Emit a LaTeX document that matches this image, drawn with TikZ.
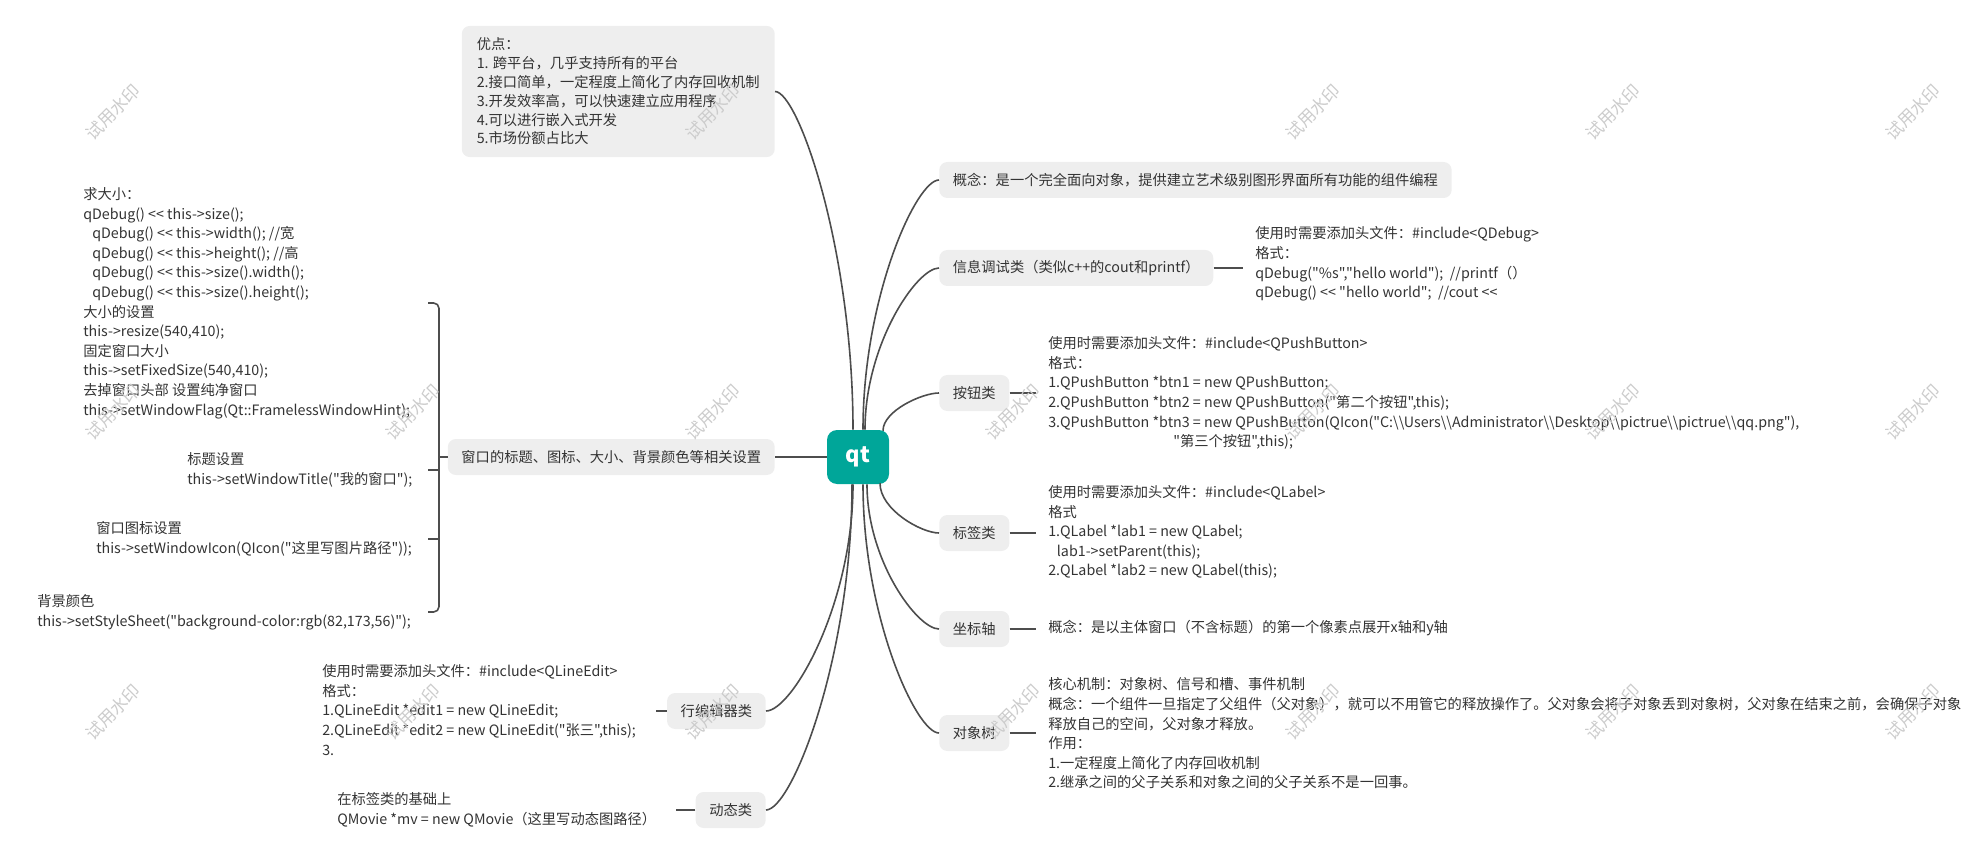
\documentclass[tikz,border=0pt]{standalone}
\usepackage{fontspec}
\setmainfont{Noto Sans CJK SC}[Ligatures=TeXOff]
\usetikzlibrary{calc, positioning}

\definecolor{qtgreen}{RGB}{0,166,153}
\definecolor{topicgray}{RGB}{238,238,238}
\definecolor{textgray}{RGB}{51,51,51}
\definecolor{linkgray}{RGB}{77,77,77}
\newcommand{\dbs}{\textbackslash\textbackslash}

\begin{document}
\begin{tikzpicture}[
    x=0.75pt, y=-0.75pt,
    root/.style={rectangle, fill=qtgreen, rounded corners=7.5pt, minimum width=46.5pt, minimum height=40.5pt, text=white, font=\fontsize{16.5}{18}\selectfont\bfseries},
    topic/.style={rectangle, fill=topicgray, rounded corners=6pt, inner xsep=10.25pt, minimum height=27pt, text=textgray, align=left, font=\fontsize{10.7}{14.1}\selectfont},
    leaf/.style={inner sep=0pt, align=left, text=textgray, font=\fontsize{10.7}{14.7}\selectfont},
    link/.style={draw=linkgray, line width=1.2pt},
    watermark/.style={text=black!20, rotate=45, font=\fontsize{13}{13}\selectfont},
  ]
  \useasboundingbox (0,0) rectangle (1982,859);

  % centre
  \node[root] (qt) at (858,457) {qt};

  % left topics
  \node[topic, anchor=east, inner xsep=11.25pt, inner ysep=9pt] (youdian) at (775,91.5) {优点：\\1. 跨平台，几乎支持所有的平台\\2.接口简单，一定程度上简化了内存回收机制\\3.开发效率高，可以快速建立应用程序\\4.可以进行嵌入式开发\\5.市场份额占比大};
  \node[topic, anchor=east] (chuangkou) at (775,457) {窗口的标题、图标、大小、背景颜色等相关设置};
  \node[topic, anchor=east] (hangbianji) at (766,711) {行编辑器类};
  \node[topic, anchor=east] (dongtai) at (766,810) {动态类};

  % right topics
  \node[topic, anchor=west] (gainian) at (939,180) {概念：是一个完全面向对象，提供建立艺术级别图形界面所有功能的组件编程};
  \node[topic, anchor=west] (tiaoshi) at (939,268) {信息调试类（类似c++的cout和printf）};
  \node[topic, anchor=west] (anniu) at (939,393) {按钮类};
  \node[topic, anchor=west] (biaoqian) at (939,533) {标签类};
  \node[topic, anchor=west] (zuobiao) at (939,629) {坐标轴};
  \node[topic, anchor=west] (duixiang) at (939,733) {对象树};

  % right details
  \node[leaf, anchor=west] (tiaoshiTxt) at (1255,264) {使用时需要添加头文件：\#include<QDebug>\\格式：\\qDebug("\%s","hello world");\ \ //printf（）\\qDebug() << "hello world";\ \ //cout <<};
  \node[leaf, anchor=west] (anniuTxt) at (1048,393) {使用时需要添加头文件：\#include<QPushButton>\\格式：\\1.QPushButton *btn1 = new QPushButton;\\2.QPushButton *btn2 = new QPushButton("第二个按钮",this);\\3.QPushButton *btn3 = new QPushButton(QIcon("C:\dbs Users\dbs Administrator\dbs Desktop\dbs pictrue\dbs pictrue\dbs qq.png"),\\\hspace*{93.75pt}"第三个按钮",this);};
  \node[leaf, anchor=west] (biaoqianTxt) at (1048,532) {使用时需要添加头文件：\#include<QLabel>\\格式\\1.QLabel *lab1 = new QLabel;\\\hspace*{6.5pt}lab1->setParent(this);\\2.QLabel *lab2 = new QLabel(this);};
  \node[leaf, anchor=west] (zuobiaoTxt) at (1048,628) {概念：是以主体窗口（不含标题）的第一个像素点展开x轴和y轴};
  \node[leaf, anchor=west] (duixiangTxt) at (1048,733.5) {核心机制：对象树、信号和槽、事件机制\\概念：一个组件一旦指定了父组件（父对象），就可以不用管它的释放操作了。父对象会将子对象丢到对象树，父对象在结束之前，会确保子对象\\释放自己的空间，父对象才释放。\\作用：\\1.一定程度上简化了内存回收机制\\2.继承之间的父子关系和对象之间的父子关系不是一回事。};

  % left details
  \node[leaf, anchor=west] (hangbianjiTxt) at (322,710) {使用时需要添加头文件：\#include<QLineEdit>\\格式：\\1.QLineEdit *edit1 = new QLineEdit;\\2.QLineEdit *edit2 = new QLineEdit("张三",this);\\3.};
  \node[leaf, anchor=west] (dongtaiTxt) at (337,810) {在标签类的基础上\\QMovie *mv = new QMovie（这里写动态图路径）};
  \node[leaf, anchor=west] (chicun) at (83,303) {求大小：\\qDebug() << this->size();\\\hspace*{6.75pt}qDebug() << this->width(); //宽\\\hspace*{6.75pt}qDebug() << this->height(); //高\\\hspace*{6.75pt}qDebug() << this->size().width();\\\hspace*{6.75pt}qDebug() << this->size().height();\\大小的设置\\this->resize(540,410);\\固定窗口大小\\this->setFixedSize(540,410);\\去掉窗口头部 设置纯净窗口\\this->setWindowFlag(Qt::FramelessWindowHint);};
  \node[leaf, anchor=west] (biaoti) at (187,470) {标题设置\\this->setWindowTitle("我的窗口");};
  \node[leaf, anchor=west] (tubiao) at (96,539) {窗口图标设置\\this->setWindowIcon(QIcon("这里写图片路径"));};
  \node[leaf, anchor=west] (beijing) at (37,612) {背景颜色\\this->setStyleSheet("background-color:rgb(82,173,56)");};

  % where the curves leave the centre
  \coordinate (qtA) at ($(qt.north)+(-5,0)$);
  \coordinate (qtB) at ($(qt.north)+(5,0)$);
  \coordinate (qtC) at ($(qt.north)+(7,0)$);
  \coordinate (qtD) at ($(qt.north)+(25,1)$);
  \coordinate (qtE) at ($(qt.south)+(22,-1)$);
  \coordinate (qtF) at ($(qt.south)+(9,0)$);
  \coordinate (qtG) at ($(qt.south)+(5,0)$);
  \coordinate (qtH) at ($(qt.south)+(-5,0)$);
  \coordinate (qtI) at ($(qt.south)+(-6,0)$);

  \foreach \from/\to in {qtA/youdian.east, qtB/gainian.west, qtC/tiaoshi.west, qtD/anniu.west, qtE/biaoqian.west, qtF/zuobiao.west, qtG/duixiang.west, qtH/hangbianji.east, qtI/dongtai.east}
    \draw[link] let \p1=(\from), \p2=(\to) in
      (\p1) .. controls (\x1,{\y1+0.53*(\y2-\y1)}) and ({\x1+0.7*(\x2-\x1)},\y2) .. (\p2);
  \draw[link] (qt.west) -- (chuangkou.east);

  % short stubs to the details
  \foreach \n in {tiaoshi, anniu, biaoqian, zuobiao, duixiang}
    \draw[link, shorten >=9pt] (\n.east) -- (\n.east -| \n Txt.west);
  \foreach \n in {hangbianji, dongtai}
    \draw[link, shorten >=15pt] (\n.west) -- (\n.west -| \n Txt.east);

  % brace on the left
  \coordinate (brace) at (439,457);
  \coordinate (braceL) at (428,457);
  \draw[link] (chuangkou.west) -- (brace);
  \draw[link, rounded corners=4pt] (braceL |- chicun) -| (brace) |- (braceL |- beijing);
  \draw[link] (braceL |- biaoti) -- (brace |- biaoti);
  \draw[link] (braceL |- tubiao) -- (brace |- tubiao);

  % trial watermark
  \foreach \wx in {113,713,1313,1613,1913}
    \node[watermark] (wm-\wx-1) at (\wx,112) {试用水印};
  \foreach \wx in {113,413,...,1913}
    \foreach \wy in {412,712}
      \node[watermark] (wm-\wx-\wy) at (\wx,\wy) {试用水印};
\end{tikzpicture}
\end{document}
